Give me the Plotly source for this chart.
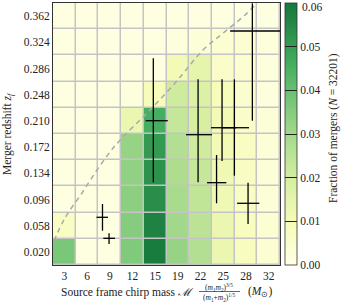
import plotly.graph_objects as go

# ---------------- data ----------------
x_labels = ["3", "6", "9", "12", "15", "19", "22", "25", "28", "32"]
x_centers = [3.0, 6.22, 9.44, 12.66, 15.88, 19.10, 22.32, 25.54, 28.76, 31.98]
y_labels = ["0.020", "0.058", "0.096", "0.134", "0.172", "0.210", "0.248", "0.286", "0.324", "0.362"]
y_centers = [0.020, 0.058, 0.096, 0.134, 0.172, 0.210, 0.248, 0.286, 0.324, 0.362]

# fraction of mergers, rows bottom (z=0.020) -> top (z=0.362), columns by chirp-mass bin
frac = [
    [0.037, 0.001, 0.001, 0.036, 0.059, 0.032, 0.027, 0.013, 0.008, 0.004],
    [0.007, 0.001, 0.001, 0.035, 0.057, 0.030, 0.025, 0.013, 0.008, 0.004],
    [0.001, 0.001, 0.001, 0.034, 0.054, 0.029, 0.024, 0.012, 0.007, 0.003],
    [0.001, 0.001, 0.001, 0.033, 0.053, 0.028, 0.023, 0.012, 0.007, 0.003],
    [0.001, 0.001, 0.001, 0.032, 0.051, 0.027, 0.021, 0.011, 0.007, 0.003],
    [0.001, 0.001, 0.001, 0.013, 0.046, 0.023, 0.019, 0.011, 0.006, 0.003],
    [0.001, 0.001, 0.001, 0.002, 0.009, 0.021, 0.018, 0.009, 0.005, 0.002],
    [0.001, 0.001, 0.001, 0.001, 0.001, 0.011, 0.015, 0.006, 0.004, 0.002],
    [0.001, 0.001, 0.001, 0.001, 0.001, 0.002, 0.003, 0.004, 0.004, 0.002],
    [0.001, 0.001, 0.001, 0.001, 0.001, 0.001, 0.001, 0.001, 0.001, 0.001],
]

# detected events (crosses)
ev_m = [8.41, 9.34, 15.62, 21.97, 24.59, 25.37, 27.12, 29.06, 29.67]
ev_z = [0.0702, 0.0397, 0.2103, 0.190, 0.1204, 0.2001, 0.2001, 0.0905, 0.3404]
ev_m_lo = [7.56, 8.53, 14.54, 20.26, 23.24, 23.81, 25.37, 27.50, 26.51]
ev_m_hi = [9.19, 10.19, 17.67, 23.95, 25.98, 27.36, 29.20, 30.66, 33.60]
ev_z_lo = [0.0507, 0.0315, 0.121, 0.121, 0.0905, 0.1518, 0.1305, 0.0605, 0.2103]
ev_z_hi = [0.0895, 0.047, 0.3008, 0.2703, 0.1605, 0.2703, 0.2703, 0.1204, 0.3806]

# horizon curve
hor_m = [1.53, 3.09, 5.50, 7.63, 9.48, 11.18, 14.87, 18.70, 22.68, 25.52, 28.63, 30.05]
hor_z = [0.0358, 0.0692, 0.1054, 0.1388, 0.1649, 0.1852, 0.2229, 0.2649, 0.3128, 0.3374, 0.3635, 0.378]

cbar_ticks = [0.00, 0.01, 0.02, 0.03, 0.04, 0.05]
cbar_labels = ["0.00", "0.01", "0.02", "0.03", "0.04", "0.05"]
cbar_top_label = "0.06"

# ---------------- figure ----------------
W, H = 344, 307
L, R, T, B = 53, 64, 3, 42
PW, PH = W - L - R, H - T - B

def px(x):
    return (x - L) / PW

def py(y):
    return (H - B - y) / PH

bw = x_centers[1] - x_centers[0]
xr = [x_centers[0] - bw / 2, x_centers[-1] + bw / 2]
yr = [0.001, 0.381]

colorscale = [
    [0.0, "#ffffe5"],
    [0.15625, "#f7fcb9"],
    [0.3125, "#d9f0a3"],
    [0.46875, "#addd8e"],
    [0.625, "#78c679"],
    [0.78125, "#41ab5d"],
    [0.9375, "#238443"],
    [1.0, "#15793e"],
]

FONT = "Liberation Serif"

fig = go.Figure()
fig.add_trace(go.Heatmap(
    x=x_centers, y=y_centers, z=frac,
    zmin=0, zmax=0.06, colorscale=colorscale,
    xgap=1.5, ygap=1.5,
    hoverinfo="skip",
    colorbar=dict(
        xref="container", x=285 / W, xanchor="left",
        yref="paper", y=0.5, yanchor="middle",
        thickness=12, thicknessmode="pixels",
        len=1, lenmode="fraction",
        tickmode="array", tickvals=cbar_ticks, ticktext=cbar_labels,
        ticks="inside", ticklen=12, tickwidth=1, tickcolor="#222222",
        outlinewidth=0.8, outlinecolor="#333333",
        tickfont=dict(family=FONT, size=11.5, color="#222222"),
        xpad=0, ypad=0,
    ),
))

fig.add_trace(go.Scatter(
    x=hor_m, y=hor_z, mode="lines", line_shape="spline",
    line=dict(color="#aaaaaa", width=1.5, dash="5px,4px"),
    hoverinfo="skip", showlegend=False,
))

fig.add_trace(go.Scatter(
    x=ev_m, y=ev_z, mode="markers",
    marker=dict(size=1, color="rgba(0,0,0,0)"),
    error_x=dict(type="data", symmetric=False,
                 array=[h - c for h, c in zip(ev_m_hi, ev_m)],
                 arrayminus=[c - l for c, l in zip(ev_m, ev_m_lo)],
                 color="black", thickness=1.3, width=0),
    error_y=dict(type="data", symmetric=False,
                 array=[h - c for h, c in zip(ev_z_hi, ev_z)],
                 arrayminus=[c - l for c, l in zip(ev_z, ev_z_lo)],
                 color="black", thickness=1.3, width=0),
    hoverinfo="skip", showlegend=False,
))

axis_common = dict(showgrid=False, zeroline=False, showline=True, linecolor="#333333",
                   linewidth=1, mirror=True, ticks="",
                   tickfont=dict(family=FONT, size=11.5, color="#222222"))
fig.update_xaxes(range=xr, tickvals=x_centers, ticktext=x_labels, **axis_common)
fig.update_yaxes(range=yr, tickvals=y_centers, ticktext=y_labels, **axis_common)

ann_font = dict(family=FONT, size=11.5, color="#222222")
frac_font = dict(family=FONT, size=7.5, color="#222222")
fig.update_layout(
    width=W, height=H,
    margin=dict(l=L, r=R, t=T, b=B, pad=0),
    plot_bgcolor="#c4c4c4", paper_bgcolor="white",
    showlegend=False,
    annotations=[
        dict(text="Merger redshift <i>z<sub>f</sub></i>", textangle=-90,
             xref="paper", yref="paper", x=px(8), y=0.5,
             xanchor="center", yanchor="middle", showarrow=False, font=ann_font),
        dict(text="Fraction of mergers (<i>N</i> = 32201)", textangle=-90,
             xref="paper", yref="paper", x=px(334), y=py(128),
             xanchor="center", yanchor="middle", showarrow=False, font=ann_font),
        dict(text=cbar_top_label,
             xref="paper", yref="paper", x=px(300), y=py(7),
             xanchor="left", yanchor="middle", showarrow=False, font=ann_font),
        dict(text="Source frame chirp mass <i>ℳ</i>",
             xref="paper", yref="paper", x=px(196), y=py(292),
             xanchor="right", yanchor="middle", showarrow=False, font=ann_font),
        dict(text="(<i>m</i><sub>1</sub><i>m</i><sub>2</sub>)<sup>3/5</sup>",
             xref="paper", yref="paper", x=px(219), y=py(287),
             xanchor="center", yanchor="middle", showarrow=False, font=frac_font),
        dict(text="(<i>m</i><sub>1</sub>+<i>m</i><sub>2</sub>)<sup>1/5</sup>",
             xref="paper", yref="paper", x=px(219), y=py(297),
             xanchor="center", yanchor="middle", showarrow=False, font=frac_font),
        dict(text="(<i>M</i><sub>⊙</sub>)",
             xref="paper", yref="paper", x=px(246), y=py(292),
             xanchor="left", yanchor="middle", showarrow=False, font=ann_font),
    ],
    shapes=[
        dict(type="line", xref="paper", yref="paper",
             x0=px(199), x1=px(240), y0=py(291.5), y1=py(291.5),
             line=dict(color="#222222", width=0.7)),
    ],
)

fig.write_html("out.html")
